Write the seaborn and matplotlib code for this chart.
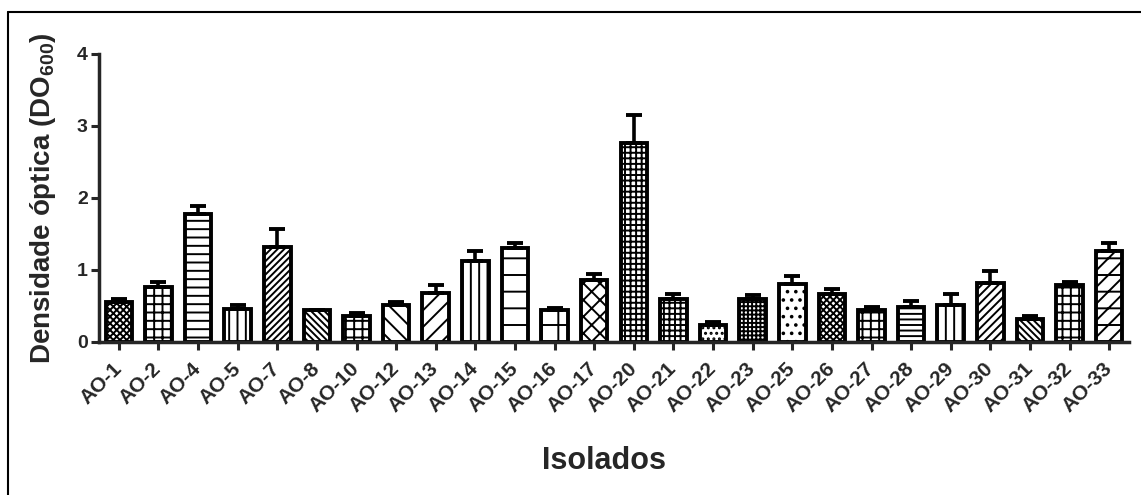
import numpy as np
import pandas as pd
import matplotlib
matplotlib.use("Agg")
import matplotlib.pyplot as plt
from matplotlib.lines import Line2D
import seaborn as sns

categories = ["AO-1", "AO-2", "AO-4", "AO-5", "AO-7", "AO-8", "AO-10", "AO-12", "AO-13",
              "AO-14", "AO-15", "AO-16", "AO-17", "AO-20", "AO-21", "AO-22", "AO-23",
              "AO-25", "AO-26", "AO-27", "AO-28", "AO-29", "AO-30", "AO-31", "AO-32", "AO-33"]
means = [0.55, 0.76, 1.78, 0.46, 1.32, 0.44, 0.36, 0.51, 0.68,
         1.12, 1.31, 0.44, 0.86, 2.77, 0.60, 0.24, 0.60,
         0.81, 0.66, 0.45, 0.48, 0.51, 0.82, 0.32, 0.79, 1.27]
errors = [0.045, 0.08, 0.11, 0.06, 0.245, 0.01, 0.04, 0.045, 0.115,
          0.145, 0.065, 0.037, 0.083, 0.38, 0.063, 0.035, 0.05,
          0.105, 0.07, 0.04, 0.084, 0.16, 0.17, 0.04, 0.05, 0.105]
hatches = ["xxxxx", "++", "--", "||", "/////", "\\\\\\\\\\", "++", "\\\\", "//",
           "||", "-", "+", "xx", "+++", "+++", "...", "++++",
           "..", "xxxxx", "++", "---", "||", "////", "\\\\\\\\\\", "++", "//-"]

df = pd.DataFrame({"Isolado": categories, "DO": means})

sns.set_style("ticks")
plt.rcParams["font.family"] = ["Liberation Sans", "DejaVu Sans"]
plt.rcParams["mathtext.fontset"] = "custom"
plt.rcParams["mathtext.rm"] = "Liberation Sans:bold"
plt.rcParams["mathtext.bf"] = "Liberation Sans:bold"
plt.rcParams["hatch.linewidth"] = 1.4
plt.rcParams["hatch.color"] = "black"

fig = plt.figure(figsize=(11.41, 4.95), dpi=100)
ax = fig.add_axes([99 / 1141, 1 - 342 / 495, 1030 / 1141, 288 / 495])

sns.barplot(data=df, x="Isolado", y="DO", ax=ax, color="white", edgecolor="black",
            linewidth=2.8, width=0.67, errorbar=None, saturation=1)
for p, h in zip(ax.patches, hatches):
    p.set_hatch(h)
    p.set_facecolor("white")
    p.set_edgecolor("black")

n = len(categories)
ax.errorbar(np.arange(n), means, yerr=[np.zeros(n), errors], fmt="none",
            ecolor="black", elinewidth=2.6, capsize=6, capthick=2.8, zorder=5)

ax.set_xlim(-0.5, n - 0.5)
ax.set_ylim(0, 4)
ax.set_yticks([0, 1, 2, 3, 4])
for s in ["top", "right"]:
    ax.spines[s].set_visible(False)
for s in ["left", "bottom"]:
    ax.spines[s].set_linewidth(2.5)
ax.tick_params(axis="both", length=6, width=2.2, labelsize=14, pad=2)
for lab in ax.get_yticklabels():
    lab.set_fontweight("bold")
ax.set_xticks(range(n))
ax.set_xticklabels(categories, rotation=45, ha="right", va="center",
                   rotation_mode="anchor", fontweight="bold", fontsize=15)
ax.tick_params(axis="x", pad=11)

ax.set_ylabel("Densidade óptica (DO$_{\\mathrm{600}}$)", fontsize=20, fontweight="bold")
ax.yaxis.set_label_coords(-0.040, 0.5)
ax.set_xlabel("Isolados", fontsize=22, fontweight="bold")
ax.xaxis.set_label_coords(0.49, -0.36)

fig.add_artist(Line2D([8 / 1141, 1.0], [1 - 12 / 495, 1 - 12 / 495],
                      transform=fig.transFigure, color="black", lw=1.5))
fig.add_artist(Line2D([8 / 1141, 8 / 1141], [0.0, 1 - 12 / 495],
                      transform=fig.transFigure, color="black", lw=1.5))

fig.savefig("out.png", dpi=100, facecolor="white")
